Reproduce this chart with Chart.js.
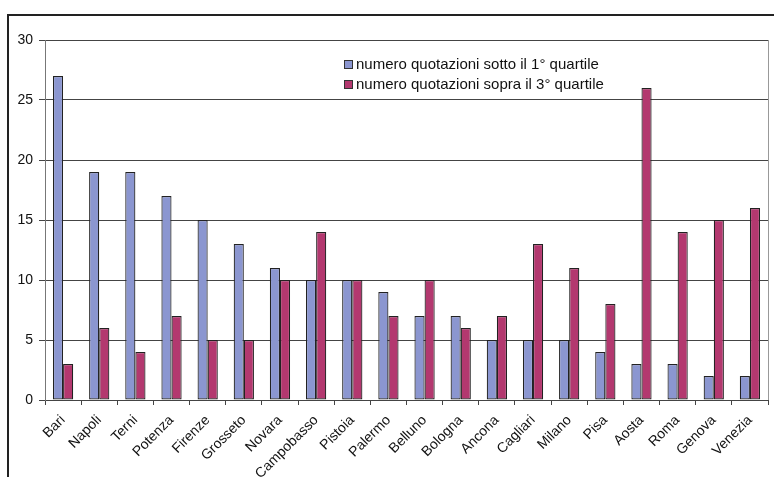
<!DOCTYPE html>
<html>
<head>
<meta charset="utf-8">
<script src="https://cdn.jsdelivr.net/npm/chart.js@4/dist/chart.umd.min.js"></script>
<style>
  html, body { margin: 0; padding: 0; background: #fff; }
  #wrap { width: 774px; height: 477px; }
</style>
</head>
<body>
<div id="wrap"><canvas id="c" width="774" height="477"></canvas></div>
<script>
// città e conteggi
const citta = ["Bari", "Napoli", "Terni", "Potenza", "Firenze", "Grosseto", "Novara", "Campobasso",
  "Pistoia", "Palermo", "Belluno", "Bologna", "Ancona", "Cagliari", "Milano", "Pisa",
  "Aosta", "Roma", "Genova", "Venezia"];
const sotto1 = [27, 19, 19, 17, 15, 13, 11, 10, 10, 9, 7, 7, 5, 5, 5, 4, 3, 3, 2, 2];
const sopra3 = [3, 6, 4, 7, 5, 5, 10, 14, 10, 7, 10, 6, 7, 13, 11, 8, 26, 14, 15, 16];
const labelSerie = ["numero quotazioni sotto il 1° quartile", "numero quotazioni sopra il 3° quartile"];
const coloriSerie = ["#8B96D0", "#B3386F"];

const FONT = '"Liberation Sans", Arial, sans-serif';

// cornice esterna + bordo destro dell'area e legenda interna
const cornice = {
  id: 'cornice',
  afterDraw(chart) {
    const ctx = chart.ctx, a = chart.chartArea;
    ctx.save();
    ctx.strokeStyle = '#222';
    ctx.lineWidth = 2;
    ctx.beginPath();
    ctx.moveTo(8, 477); ctx.lineTo(8, 15); ctx.lineTo(774, 15);
    ctx.stroke();

    ctx.strokeStyle = '#999';
    ctx.lineWidth = 1;
    ctx.beginPath();
    ctx.moveTo(Math.round(a.right) + 0.5, a.top); ctx.lineTo(Math.round(a.right) + 0.5, a.bottom);
    ctx.stroke();

    ctx.font = '15px ' + FONT;
    ctx.textBaseline = 'middle';
    chart.data.datasets.forEach((ds, i) => {
      const y = 64 + i * 20;
      ctx.fillStyle = ds.backgroundColor;
      ctx.fillRect(344, y - 4, 9, 9);
      ctx.strokeStyle = '#333';
      ctx.strokeRect(344.5, y - 3.5, 8, 8);
      ctx.fillStyle = '#111';
      ctx.fillText(ds.label, 356, y + 1);
    });
    ctx.restore();
  }
};

new Chart(document.getElementById('c'), {
  type: 'bar',
  data: {
    labels: citta,
    datasets: [
      { label: labelSerie[0], data: sotto1, backgroundColor: coloriSerie[0], borderColor: '#222', borderWidth: 1.2, borderSkipped: false },
      { label: labelSerie[1], data: sopra3, backgroundColor: coloriSerie[1], borderColor: '#222', borderWidth: 1.2, borderSkipped: false }
    ]
  },
  options: {
    responsive: false,
    animation: false,
    layout: { padding: { top: 40, right: 6, left: 0, bottom: 0 } },
    datasets: { bar: { categoryPercentage: 0.56, barPercentage: 1.0 } },
    plugins: { legend: { display: false }, tooltip: { enabled: false } },
    scales: {
      x: {
        grid: { drawOnChartArea: false, color: '#444', tickLength: 5, offset: true },
        border: { color: '#444' },
        ticks: {
          color: '#111', maxRotation: 45, minRotation: 45, autoSkip: false, padding: 7,
          font: { family: FONT, size: 14 }
        },
        afterFit(s) { s.height = 77; }
      },
      y: {
        min: 0, max: 30,
        grid: { color: '#444', tickLength: 6 },
        border: { color: '#777' },
        ticks: {
          stepSize: 5, color: '#111', padding: 6,
          font: { family: FONT, size: 14 }
        },
        afterFit(s) { s.width = 45; }
      }
    }
  },
  plugins: [cornice]
});
</script>
</body>
</html>
